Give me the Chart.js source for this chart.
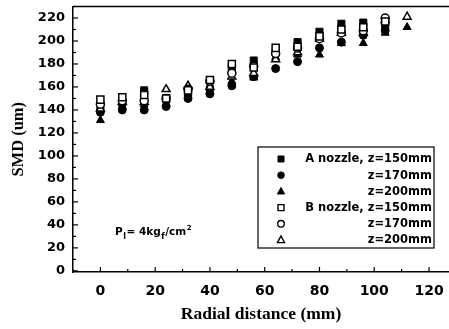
<!DOCTYPE html>
<html>
<head>
<meta charset="utf-8">
<script src="https://cdn.jsdelivr.net/npm/chart.js@4.4.0/dist/chart.umd.min.js"></script>
<style>
    html, body { margin: 0; padding: 0; background: #fff; }
    #box { width: 449px; height: 329px; }
</style>
</head>
<body>
<div id="box"><canvas id="grafico"></canvas></div>
<script>
// posicao radial (mm)
const distancias = [0, 8, 16, 24, 32, 40, 48, 56, 64, 72, 80, 88, 96, 104, 112];

// SMD (um) - bocal A
const bocalA150 = [143, 146, 157, 150, 156, 158, 176, 183, 190, 199, 208, 215, 216, 213, null];
const bocalA170 = [138, 140, 140, 143, 150, 154, 161, 169, 176, 182, 194, 199, 205, 209, null];
const bocalA200 = [131, 143, 145, 146, 154, 156, 165, 168, 186, 188, 188, 198, 198, 207, 212];

// SMD (um) - bocal B
const bocalB150 = [149, 151, 153, 150, 157, 166, 180, 177, 194, 195, 204, 210, 212, 217, null];
const bocalB170 = [145, 148, 148, 150, 158, 165, 172, 178, 189, 194, 202, 207, 209, 220, null];
const bocalB200 = [141, 147, 147, 158, 161, 160, 169, 172, 184, 190, 202, 207, 207, 218, 221];

const legendas = ['A nozzle, z=150mm', 'z=170mm', 'z=200mm', 'B nozzle, z=150mm', 'z=170mm', 'z=200mm'];

const fonteBold = 'DejaVu Sans';

function pontos(valores) {
    return distancias.map((x, i) => ({ x: x, y: valores[i] }));
}

function serie(label, valores, estilo, aberto, raio) {
    return {
        label: label,
        data: pontos(valores),
        showLine: false,
        pointStyle: estilo,
        pointRadius: raio,
        pointHoverRadius: raio,
        pointBackgroundColor: aberto ? '#fff' : '#000',
        pointBorderColor: '#000',
        pointBorderWidth: aberto ? 1.5 : 1,
        order: aberto ? 0 : 1
    };
}

const series = [
    serie(legendas[0], bocalA150, 'rect', false, 5),
    serie(legendas[1], bocalA170, 'circle', false, 4),
    serie(legendas[2], bocalA200, 'triangle', false, 4.6),
    serie(legendas[3], bocalB150, 'rect', true, 5),
    serie(legendas[4], bocalB170, 'circle', true, 4),
    serie(legendas[5], bocalB200, 'triangle', true, 4.6)
];

// marcador da legenda desenhado a mao
function desenharMarcador(ctx, estilo, aberto, x, y) {
    ctx.save();
    ctx.fillStyle = aberto ? '#fff' : '#000';
    ctx.strokeStyle = '#000';
    ctx.lineWidth = aberto ? 1.4 : 1;
    ctx.beginPath();
    if (estilo === 'rect') {
        ctx.rect(x - 3, y - 3, 6, 6);
    } else if (estilo === 'circle') {
        ctx.arc(x, y, 3.3, 0, Math.PI * 2);
    } else {
        ctx.moveTo(x, y - 4);
        ctx.lineTo(x + 3.6, y + 2.6);
        ctx.lineTo(x - 3.6, y + 2.6);
        ctx.closePath();
    }
    ctx.fill();
    ctx.stroke();
    ctx.restore();
}

const molduraPlugin = {
    id: 'moldura',
    afterDraw(chart) {
        const ctx = chart.ctx;
        const area = chart.chartArea;
        const sx = chart.scales.x;
        const sy = chart.scales.y;

        ctx.save();
        ctx.strokeStyle = '#000';

        // borda superior
        ctx.lineWidth = 1.5;
        ctx.beginPath();
        ctx.moveTo(area.left, area.top);
        ctx.lineTo(area.right, area.top);
        ctx.stroke();

        // marcas para dentro
        ctx.lineWidth = 1.2;
        sx.ticks.forEach(t => {
            const px = sx.getPixelForValue(t.value);
            const tam = t.value % 20 === 0 ? 5 : 3;
            ctx.beginPath();
            ctx.moveTo(px, area.bottom);
            ctx.lineTo(px, area.bottom - tam);
            ctx.stroke();
        });
        sy.ticks.forEach(t => {
            const py = sy.getPixelForValue(t.value);
            const tam = t.value % 20 === 0 ? 5 : 3;
            ctx.beginPath();
            ctx.moveTo(area.left, py);
            ctx.lineTo(area.left + tam, py);
            ctx.stroke();
        });

        // caixa da legenda
        ctx.lineWidth = 1.2;
        ctx.strokeRect(258, 147, 176, 101);
        const estilos = ['rect', 'circle', 'triangle', 'rect', 'circle', 'triangle'];
        ctx.font = 'bold 11.5px "' + fonteBold + '"';
        ctx.fillStyle = '#000';
        ctx.textAlign = 'right';
        ctx.textBaseline = 'middle';
        legendas.forEach((txt, i) => {
            const y = 159 + i * 16.2;
            desenharMarcador(ctx, estilos[i], i >= 3, 281, y);
            ctx.fillStyle = '#000';
            ctx.fillText(txt, 432, y + 0.5);
        });

        // texto da pressao: P_l= 4kg_f/cm^2
        ctx.textAlign = 'left';
        ctx.textBaseline = 'alphabetic';
        const partes = [
            { t: 'P', f: 10.5, dy: 0 },
            { t: 'l', f: 8, dy: 4 },
            { t: '= 4kg', f: 10.5, dy: 0 },
            { t: 'f', f: 8, dy: 4 },
            { t: '/cm', f: 10.5, dy: 0 },
            { t: '2', f: 7, dy: -5 }
        ];
        let x = 115;
        partes.forEach(p => {
            ctx.font = 'bold ' + p.f + 'px "' + fonteBold + '"';
            ctx.fillText(p.t, x, 235 + p.dy);
            x += ctx.measureText(p.t).width + 0.5;
        });
        ctx.restore();
    }
};

const ctxGrafico = document.getElementById('grafico').getContext('2d');

new Chart(ctxGrafico, {
    type: 'scatter',
    data: { datasets: series },
    options: {
        responsive: true,
        maintainAspectRatio: false,
        animation: false,
        layout: { autoPadding: false, padding: { top: 6.5, right: 0, left: 0, bottom: 0 } },
        plugins: {
            legend: { display: false },
            tooltip: { enabled: false }
        },
        scales: {
            x: {
                type: 'linear',
                min: -10,
                max: 127.3,
                grid: { display: false, drawTicks: false },
                border: { display: true, color: '#000', width: 1.5 },
                ticks: {
                    stepSize: 10,
                    includeBounds: false,
                    autoSkip: false,
                    maxRotation: 0,
                    padding: 11,
                    color: '#000',
                    font: { family: fonteBold, size: 14, weight: 'bold' },
                    callback: v => (v % 20 === 0 && v >= 0) ? v : ''
                },
                title: {
                    display: true,
                    text: 'Radial distance (mm)',
                    color: '#000',
                    font: { family: 'Liberation Serif', size: 17.5, weight: 'bold' },
                    padding: { top: 0, bottom: 4 }
                },
                afterFit: scale => {
                    scale.height = 57;
                    scale.paddingLeft = 0;
                    scale.paddingRight = 0;
                }
            },
            y: {
                type: 'linear',
                min: -1,
                max: 230,
                grid: { display: false, drawTicks: false },
                border: { display: true, color: '#000', width: 1.5 },
                ticks: {
                    stepSize: 10,
                    includeBounds: false,
                    autoSkip: false,
                    padding: 8,
                    color: '#000',
                    font: { family: fonteBold, size: 13, weight: 'bold' },
                    callback: v => (v % 20 === 0 && v >= 0) ? v : ''
                },
                title: {
                    display: true,
                    text: 'SMD (um)',
                    color: '#000',
                    font: { family: 'Liberation Serif', size: 16.5, weight: 'bold' },
                    padding: { top: 9, bottom: 0 }
                },
                afterFit: scale => {
                    scale.width = 73;
                    scale.paddingTop = 0;
                    scale.paddingBottom = 0;
                }
            }
        }
    },
    plugins: [molduraPlugin]
});
</script>
</body>
</html>
